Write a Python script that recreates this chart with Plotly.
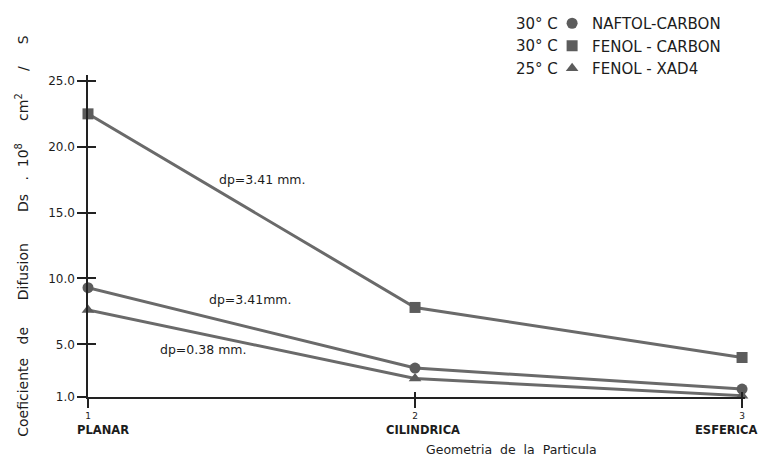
import plotly.graph_objects as go

geometry_x = [1, 2, 3]
geometry_numbers = ["1", "2", "3"]
geometry_names = ["PLANAR", "CILINDRICA", "ESFERICA"]
naftol_carbon = [9.3, 3.2, 1.6]
fenol_carbon = [22.5, 7.8, 4.0]
fenol_xad4 = [7.6, 2.4, 1.1]
y_ticks = [1, 5, 10, 15, 20, 25]
y_tick_text = ["1.0", "5.0", "10.0", "15.0", "20.0", "25.0"]
series_names = ["NAFTOL-CARBON", "FENOL - CARBON", "FENOL - XAD4"]
series_temps = ["30° C", "30° C", "25° C"]
dp_labels = ["dp=3.41 mm.", "dp=3.41mm.", "dp=0.38 mm."]

line_col = "#6a6a6a"
mark_col = "#5c5c5c"
ink = "#1c1c1c"
symbols = ["circle", "square", "triangle-up"]

fig = go.Figure()
for vals, name, sym in zip([naftol_carbon, fenol_carbon, fenol_xad4], series_names, symbols):
    fig.add_trace(go.Scatter(
        x=geometry_x, y=vals, name=name, mode="lines+markers",
        line=dict(color=line_col, width=3),
        marker=dict(symbol=sym, size=11, color=mark_col),
        cliponaxis=False, showlegend=False,
    ))
# legend entries: markers only
for name, sym in zip(series_names, symbols):
    fig.add_trace(go.Scatter(
        x=[None], y=[None], name=name, mode="markers",
        marker=dict(symbol=sym, size=11, color=mark_col), showlegend=True,
    ))
# empty trace so the overlay axes (crossing ticks) are drawn
fig.add_trace(go.Scatter(x=[None], y=[None], xaxis="x2", yaxis="y2",
                         showlegend=False, hoverinfo="skip", mode="markers"))

nb = "\u00a0"
ytitle = (f"Coeficiente{nb*3}de{nb*6}Difusion{nb*7}Ds{nb*3}.{nb*2}10<sup>8</sup>"
          f"{nb*5}cm<sup>2</sup>{nb*5}/{nb*5}S")

Y0, Y1 = 1, 25.45
fig.update_layout(
    width=762, height=465,
    margin=dict(l=88, r=17, t=75, b=68, autoexpand=False),
    paper_bgcolor="white", plot_bgcolor="white",
    font=dict(family="DejaVu Sans", color=ink, size=12),
    showlegend=True,
    legend=dict(x=0.7064, y=1 + (75 - 7) / 322, xanchor="left", yanchor="top",
                font=dict(family="DejaVu Sans", size=15, color=ink),
                bgcolor="rgba(0,0,0,0)", tracegroupgap=0, borderwidth=0),
    xaxis=dict(range=[1, 3.009], tickvals=geometry_x, ticktext=geometry_numbers,
               showline=True, linecolor="#222", linewidth=1.5,
               ticks="outside", ticklen=9, tickcolor="#222", tickwidth=1.5,
               showgrid=False, zeroline=False, automargin=False,
               tickfont=dict(size=9, family="DejaVu Sans")),
    yaxis=dict(range=[Y0, Y1], tickvals=y_ticks, ticktext=y_tick_text,
               showline=True, linecolor="#222", linewidth=1.5,
               ticks="outside", ticklen=9, tickcolor="#222", tickwidth=1.5,
               showgrid=False, zeroline=False, automargin=False,
               tickfont=dict(size=12, family="DejaVu Sans"),
               title=dict(text=ytitle, font=dict(size=14, family="DejaVu Sans"), standoff=16)),
    xaxis2=dict(range=[1, 3.009], overlaying="x", anchor="y2", side="bottom",
                tickvals=geometry_x, showticklabels=False, ticks="inside", ticklen=5,
                tickcolor="#222", tickwidth=1.5, showgrid=False, zeroline=False,
                showline=False),
    yaxis2=dict(range=[Y0, Y1], overlaying="y", anchor="x2", side="left",
                tickvals=y_ticks, showticklabels=False, ticks="inside", ticklen=8,
                tickcolor="#222", tickwidth=1.5, showgrid=False, zeroline=False,
                showline=False),
)

# x category names under the tick numbers
name_pos = [("left", -13), ("center", 8), ("right", 17)]
for xv, nm, (anc, sh) in zip(geometry_x, geometry_names, name_pos):
    fig.add_annotation(x=xv, xref="x", y=-(430 - 397) / 322, yref="paper",
                       text=f"<b>{nm}</b>", showarrow=False, xshift=sh,
                       xanchor=anc, yanchor="middle",
                       font=dict(family="DejaVu Sans", size=11.5, color=ink))

# x axis title
fig.add_annotation(xref="paper", yref="paper", x=(511 - 88) / 657, y=-(449 - 397) / 322,
                   text=f"Geometria{nb*2}de{nb*2}la{nb*2}Particula", showarrow=False,
                   xanchor="center", yanchor="middle",
                   font=dict(family="DejaVu Sans", size=12.5, color=ink))

# temperatures to the left of the legend symbols
for i, t in enumerate(series_temps):
    py = 24 + i * 22.3
    fig.add_annotation(xref="paper", yref="paper", x=(560 - 88) / 657, y=1 + (75 - py) / 322,
                       xanchor="right", yanchor="middle", text=t, showarrow=False,
                       font=dict(family="DejaVu Sans", size=15, color=ink))

dp_pos = [(1.394, 17.48), (1.364, 8.37), (1.214, 4.57)]
for (ax, ay), txt in zip(dp_pos, dp_labels):
    fig.add_annotation(x=ax, y=ay, text=txt, showarrow=False, xanchor="left",
                       yanchor="middle", font=dict(family="DejaVu Sans", size=12.5, color=ink))

fig.write_html("out.html", config={"displayModeBar": False},
               post_script="document.body.style.margin='0px';")
